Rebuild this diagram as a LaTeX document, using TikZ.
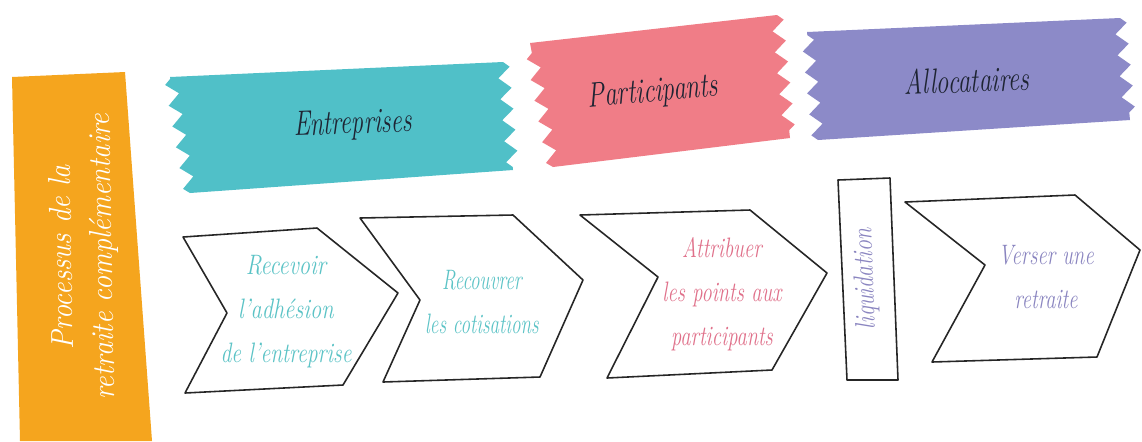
\documentclass[tikz,border=0pt]{standalone}
\usetikzlibrary{decorations.pathmorphing}
\definecolor{orangeband}{HTML}{F5A51E}
\definecolor{tealrib}{HTML}{50C0C8}
\definecolor{pinkrib}{HTML}{F07D87}
\definecolor{purplerib}{HTML}{8C8AC8}
\definecolor{tealtxt}{HTML}{5BC3C6}
\definecolor{pinktxt}{HTML}{E0708A}
\definecolor{purpletxt}{HTML}{8A85C0}
\definecolor{ribtxt}{HTML}{1E2433}
\newcommand{\cnd}[2][0.8]{\scalebox{#1}[1]{#2}}
\begin{document}
\begin{tikzpicture}[x=0.02cm,y=-0.02cm,line join=round,
  chev/.style={draw=black!85,line width=0.9pt,fill=white},
  zz/.style={decoration={zigzag,segment length=12pt,amplitude=3.5pt}},
  riblbl/.style={font=\itshape\fontsize{20}{22}\selectfont,text=ribtxt},
  steplbl/.style={font=\itshape\fontsize{16}{25}\selectfont,align=center}]
\useasboundingbox[fill=white] (0,0) rectangle (1142,441);

% orange band
\fill[orangeband] (12,77) -- (125,72) -- (152,441) -- (20,441) -- cycle;
\node[rotate=91,align=center,text=white,font=\itshape\fontsize{18}{23}\selectfont] (band) at (84,257)
  {\cnd[0.9]{Processus de la}\\\cnd[0.9]{retraite compl\'ementaire}};

% ribbons
\fill[tealrib] (170,77) -- (503,62) decorate[zz]{-- (513,170)} -- (190,193) decorate[zz]{-- (170,77)} -- cycle;
\node[riblbl,rotate=2] (entr) at (353,125) {\cnd[0.7]{Entreprises}};

\fill[pinkrib] (530,43) -- (777,15) decorate[zz]{-- (790,138)} -- (553,167) decorate[zz]{-- (530,43)} -- cycle;
\node[riblbl,rotate=5] (part) at (653,93) {\cnd[0.72]{Participants}};

\fill[purplerib] (807,32) -- (1120,18) decorate[zz]{-- (1130,120)} -- (818,140) decorate[zz]{-- (807,32)} -- cycle;
\node[riblbl,rotate=2] (allo) at (967,80) {\cnd[0.72]{Allocataires}};

% chevrons
\draw[chev] (183,237) -- (317,228) -- (398,293) -- (343,385) -- (185,393) -- (227,313) -- cycle;
\node[steplbl,text=tealtxt] (s1) at (286,312) {\cnd{Recevoir}\\\cnd{l'adh\'esion}\\\cnd[0.77]{de l'entreprise}};

\draw[chev] (360,218) -- (513,215) -- (583,280) -- (540,377) -- (383,382) -- (420,300) -- cycle;
\node[steplbl,text=tealtxt] (s2) at (482,302) {\cnd[0.68]{Recouvrer}\\\cnd[0.68]{les cotisations}};

\draw[chev] (580,215) -- (750,210) -- (827,273) -- (772,370) -- (607,378) -- (658,277) -- cycle;
\node[steplbl,text=pinktxt] (s3) at (722,294) {\cnd[0.73]{Attribuer}\\\cnd[0.73]{les points aux}\\\cnd[0.73]{participants}};

\draw[chev] (838,180) -- (890,178) -- (898,380) -- (847,380) -- cycle;
\node[steplbl,text=purpletxt,rotate=92] (liq) at (866,279) {\cnd{liquidation}};

\draw[chev] (905,202) -- (1075,195) -- (1140,250) -- (1097,357) -- (932,362) -- (985,265) -- cycle;
\node[steplbl,text=purpletxt] (s4) at (1046,277) {\cnd[0.73]{Verser une}\\\cnd[0.73]{retraite}};
\end{tikzpicture}
\end{document}
